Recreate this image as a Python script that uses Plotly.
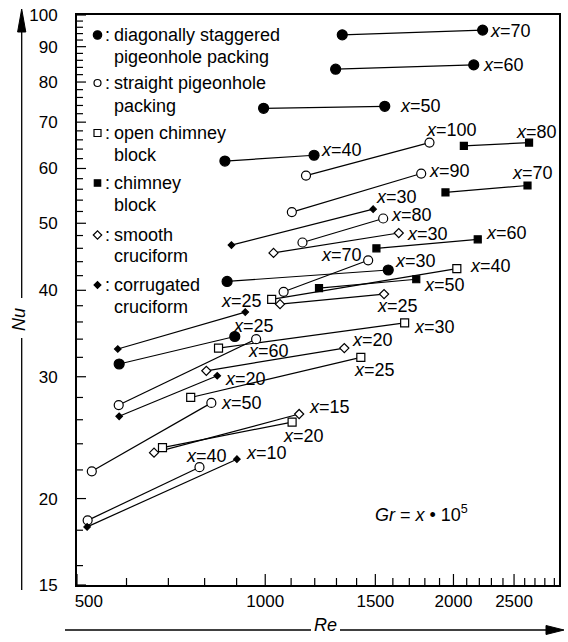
import numpy as np
import plotly.graph_objects as go

# ---------------- data ----------------
# each curve: two measured points (lower Re end, upper Re end); Gr = x*10^5
gr_diag = [70, 60, 50, 40, 30, 25]
re_diag_lo = [1328, 1296, 994, 862, 869, 584]
re_diag_hi = [2227, 2155, 1553, 1197, 1573, 894]
nu_diag_lo = [93.6, 83.5, 73.3, 61.5, 41.2, 31.3]
nu_diag_hi = [95.1, 84.7, 73.8, 62.7, 42.8, 34.3]

gr_straight = [100, 90, 80, 70, 60, 50, 40]
re_straight_lo = [1162, 1103, 1147, 1070, 583, 528, 520]
re_straight_hi = [1831, 1776, 1544, 1461, 967, 820, 785]
nu_straight_lo = [58.6, 51.9, 46.9, 39.8, 27.3, 21.9, 18.6]
nu_straight_hi = [65.4, 59.0, 50.8, 44.2, 34.0, 27.5, 22.2]

gr_open = [40, 30, 25, 20]
re_open_lo = [1024, 842, 760, 685]
re_open_hi = [2025, 1671, 1422, 1104]
nu_open_lo = [38.8, 33.0, 28.0, 23.7]
nu_open_hi = [43.0, 35.9, 32.0, 25.8]

gr_chim = [80, 70, 60, 50]
re_chim_lo = [2078, 1942, 1506, 1219]
re_chim_hi = [2642, 2627, 2187, 1744]
nu_chim_lo = [64.7, 55.4, 46.0, 40.3]
nu_chim_hi = [65.4, 56.7, 47.4, 41.5]

gr_smooth = [30, 25, 20, 15]
re_smooth_lo = [1031, 1056, 805, 664]
re_smooth_hi = [1635, 1549, 1338, 1133]
nu_smooth_lo = [45.3, 38.2, 30.6, 23.3]
nu_smooth_hi = [48.4, 39.5, 33.0, 26.5]

gr_corr = [30, 25, 20, 10]
re_corr_lo = [883, 581, 584, 519]
re_corr_hi = [1488, 929, 838, 901]
nu_corr_lo = [46.5, 32.9, 26.3, 18.2]
nu_corr_hi = [52.4, 37.2, 30.1, 22.8]

x_ticks = [500, 1000, 1500, 2000, 2500]
y_ticks = [15, 20, 30, 40, 50, 60, 70, 80, 90, 100]

legend_names = [
    ("diagonally staggered", "pigeonhole packing"),
    ("straight pigeonhole", "packing"),
    ("open chimney", "block"),
    ("chimney", "block"),
    ("smooth", "cruciform"),
    ("corrugated", "cruciform"),
]

# ---------------- styling / placement ----------------
FONT = "Liberation Sans, Arial, Helvetica, sans-serif"
W, H = 568, 642
ML, MR, MT, MB = 77, 9, 15, 57
PW, PH = W - ML - MR, H - MT - MB
LAB = 18


def px(xp):
    return (xp - ML) / PW


def py(yp):
    return (MT + PH - yp) / PH


# label offsets (dx, dy in px, x-anchor) relative to the upper-Re point
lab_diag = [(6, -1, "left"), (8, 0, "left"), (14, 0, "left"), (6, 5, "left"), (6, 9, "left"), (-3, 10, "left")]
lab_straight = [(-4, 13, "left"), (7, 3, "left"), (7, 3, "left"), (-5, 5, "right"), (-9, -12, "left"), (9, 0, "left"), (-14, 11, "left")]
lab_open = [(12, 3, "left"), (8, -4, "left"), (-8, -13, "left"), (-10, -14, "left")]
lab_chim = [(-14, 11, "left"), (-17, 12, "left"), (7, 6, "left"), (7, -6, "left")]
lab_smooth = [(7, -1, "left"), (-8, -12, "left"), (7, 8, "left"), (9, 7, "left")]
lab_corr = [(2, 12, "left"), (-25, 11, "left"), (7, -3, "left"), (8, 6, "left")]

series = [
    dict(gr=gr_diag, rl=re_diag_lo, rh=re_diag_hi, nl=nu_diag_lo, nh=nu_diag_hi,
         symbol="circle", size=10, fill="black", lab=lab_diag),
    dict(gr=gr_straight, rl=re_straight_lo, rh=re_straight_hi, nl=nu_straight_lo, nh=nu_straight_hi,
         symbol="circle", size=9, fill="white", lab=lab_straight),
    dict(gr=gr_open, rl=re_open_lo, rh=re_open_hi, nl=nu_open_lo, nh=nu_open_hi,
         symbol="square", size=8, fill="white", lab=lab_open),
    dict(gr=gr_chim, rl=re_chim_lo, rh=re_chim_hi, nl=nu_chim_lo, nh=nu_chim_hi,
         symbol="square", size=7, fill="black", lab=lab_chim),
    dict(gr=gr_smooth, rl=re_smooth_lo, rh=re_smooth_hi, nl=nu_smooth_lo, nh=nu_smooth_hi,
         symbol="diamond", size=7, fill="white", lab=lab_smooth),
    dict(gr=gr_corr, rl=re_corr_lo, rh=re_corr_hi, nl=nu_corr_lo, nh=nu_corr_hi,
         symbol="diamond", size=5, fill="black", lab=lab_corr),
]

fig = go.Figure()

# connecting lines first
for s in series:
    xs, ys = [], []
    for a, b, c, d in zip(s["rl"], s["rh"], s["nl"], s["nh"]):
        xs += [a, b, None]
        ys += [c, d, None]
    fig.add_trace(go.Scatter(x=xs, y=ys, mode="lines", line=dict(color="black", width=1.2),
                             hoverinfo="skip", showlegend=False))

# markers on top
for s in series:
    fig.add_trace(go.Scatter(
        x=s["rl"] + s["rh"], y=s["nl"] + s["nh"], mode="markers",
        marker=dict(symbol=s["symbol"], size=s["size"], color=s["fill"],
                    line=dict(color="black", width=1.2)),
        showlegend=False))

annotations = []
for s in series:
    for g, r, n, (dx, dy, anc) in zip(s["gr"], s["rh"], s["nh"], s["lab"]):
        annotations.append(dict(
            x=np.log10(r), y=np.log10(n), xref="x", yref="y", showarrow=False,
            text=f"<i>x</i>={g}", xanchor=anc, yanchor="middle", xshift=dx, yshift=dy,
            borderpad=0, font=dict(family=FONT, size=LAB, color="black")))

# legend block (text)
leg_y = [(35, 57), (83, 106), (133, 155), (183, 205), (235, 256), (285, 307)]
for (l1, l2), (y1, y2) in zip(legend_names, leg_y):
    annotations.append(dict(x=px(104), y=py(y1), xref="paper", yref="paper", showarrow=False,
                            text=":", xanchor="left", yanchor="middle", borderpad=0,
                            font=dict(family=FONT, size=LAB, color="black")))
    for txt, yy in ((l1, y1), (l2, y2)):
        annotations.append(dict(x=px(113), y=py(yy), xref="paper", yref="paper", showarrow=False,
                                text=txt, xanchor="left", yanchor="middle", borderpad=0,
                                font=dict(family=FONT, size=LAB, color="black")))

# Gr note and axis titles
annotations.append(dict(x=px(421), y=py(513), xref="paper", yref="paper", showarrow=False,
                        text="<i>Gr</i> = <i>x</i> \u2022 10<sup>5</sup>", xanchor="center", yanchor="middle",
                        font=dict(family=FONT, size=LAB, color="black")))
annotations.append(dict(x=px(19), y=py(320), xref="paper", yref="paper", showarrow=False,
                        text="<i>Nu</i>", textangle=-90, xanchor="center", yanchor="middle",
                        font=dict(family=FONT, size=LAB, color="black")))
annotations.append(dict(x=px(325), y=py(625), xref="paper", yref="paper", showarrow=False,
                        text="<i>Re</i>", xanchor="center", yanchor="middle",
                        font=dict(family=FONT, size=LAB, color="black")))

shapes = []
# legend symbols
leg_sym = [("circle", 4.2, "black"), ("circle", 3.5, "white"), ("rect", 3.5, "white"),
           ("rect", 3.2, "black"), ("diamond", 4.2, "white"), ("diamond", 3.4, "black")]
for (kind, r, fill), (y1, _) in zip(leg_sym, leg_y):
    common = dict(xref="paper", yref="paper", xsizemode="pixel", ysizemode="pixel",
                  xanchor=px(97.5), yanchor=py(y1), fillcolor=fill,
                  line=dict(color="black", width=1.2), layer="above")
    if kind == "diamond":
        shapes.append(dict(type="path", path=f"M {-r} 0 L 0 {r} L {r} 0 L 0 {-r} Z", **common))
    else:
        shapes.append(dict(type=kind, x0=-r, x1=r, y0=-r, y1=r, **common))

# axis tick marks (inside), placed at the tick values through the (log) axes
x_minor = [v for v in range(600, 3000, 100) if v not in x_ticks]
y_minor = [v for v in range(16, 100, 2) if v not in y_ticks]
tick_line = dict(color="black", width=1.2)
for vals, ln in ((x_ticks, 11), (x_minor, 7)):
    for v in vals:
        shapes.append(dict(type="line", xref="x", yref="paper", x0=v, x1=v,
                           ysizemode="pixel", yanchor=0, y0=0, y1=ln, line=tick_line, layer="above"))
for vals, ln in ((y_ticks, 9), (y_minor, 6)):
    for v in vals:
        shapes.append(dict(type="line", yref="y", xref="paper", y0=v, y1=v,
                           xsizemode="pixel", xanchor=0, x0=0, x1=ln, line=tick_line, layer="above"))

# outer axis arrows
lx = px(21.7)
arrow_line = dict(color="black", width=1.3)
shapes.append(dict(type="line", xref="paper", yref="paper", x0=lx, x1=lx, y0=py(28), y1=py(298), line=arrow_line))
shapes.append(dict(type="line", xref="paper", yref="paper", x0=lx, x1=lx, y0=py(338), y1=py(590), line=arrow_line))
shapes.append(dict(type="path", xref="paper", yref="paper",
                   path=f"M {px(21.7)} {py(9)} L {px(17.6)} {py(32)} L {px(25.8)} {py(32)} Z",
                   fillcolor="black", line=dict(color="black", width=1)))
by = 630
shapes.append(dict(type="line", xref="paper", yref="paper", x0=px(65), x1=px(311), y0=py(by), y1=py(by), line=arrow_line))
shapes.append(dict(type="line", xref="paper", yref="paper", x0=px(340), x1=px(550), y0=py(by), y1=py(by), line=arrow_line))
shapes.append(dict(type="path", xref="paper", yref="paper",
                   path=f"M {px(564)} {py(by)} L {px(546)} {py(by - 4.5)} L {px(546)} {py(by + 4.5)} Z",
                   fillcolor="black", line=dict(color="black", width=1)))

x_text = ["\u00a0" * 5 + "500", "1000", "1500", "2000", "2500"]
y_text = [str(v) + "\u00a0" * 3 for v in y_ticks]

xr = [np.log10(500), np.log10(2950)]
yr = [np.log10(15), np.log10(100)]

fig.update_layout(
    template="none",
    width=W, height=H,
    margin=dict(l=ML, r=MR, t=MT, b=MB, pad=0),
    paper_bgcolor="white", plot_bgcolor="white",
    font=dict(family=FONT, size=17, color="black"),
    showlegend=False,
    annotations=annotations,
    shapes=shapes,
    xaxis=dict(
        type="log", range=xr, autorange=False, automargin=False,
        tickmode="array", tickvals=x_ticks, ticktext=x_text,
        ticks="", showline=True, linecolor="black", linewidth=1.5, mirror=True,
        showgrid=False, zeroline=False,
        tickfont=dict(family=FONT, size=17, color="black"),
    ),
    yaxis=dict(
        type="log", range=yr, autorange=False, automargin=False,
        tickmode="array", tickvals=y_ticks, ticktext=y_text,
        ticks="", showline=True, linecolor="black", linewidth=1.5, mirror=True,
        showgrid=False, zeroline=False,
        tickfont=dict(family=FONT, size=17, color="black"),
    ),
)

fig.write_html("out.html", config={"displayModeBar": False},
               post_script="document.body.style.margin='0px';")
